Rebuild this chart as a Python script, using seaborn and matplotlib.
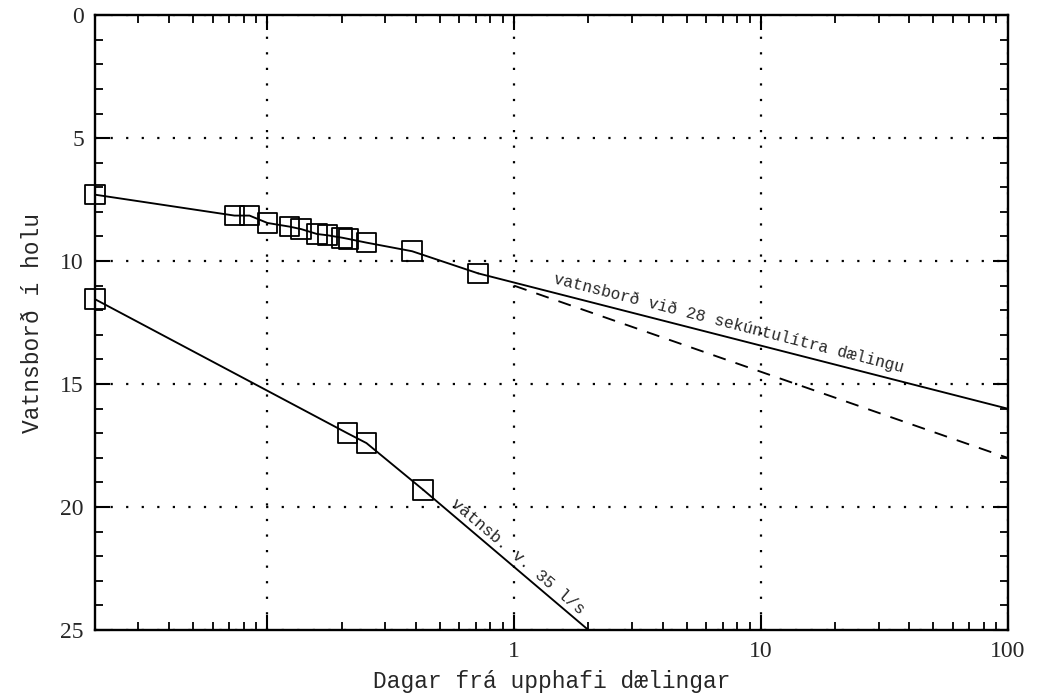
import numpy as np
import matplotlib
matplotlib.use('Agg')
import matplotlib.pyplot as plt
import pandas as pd
import seaborn as sns
from matplotlib.ticker import FixedLocator, FixedFormatter, MultipleLocator, NullFormatter

# data (days, water level in m below top)
upper_days = [0.02, 0.0735, 0.0846, 0.1, 0.123, 0.137, 0.159, 0.175, 0.201, 0.213, 0.252, 0.386, 0.715]
upper_level = [7.3, 8.15, 8.15, 8.45, 8.6, 8.7, 8.9, 8.95, 9.05, 9.1, 9.25, 9.6, 10.5]
upper_trend_days = [0.715, 100]
upper_trend_level = [10.5, 16.0]
dashed_days = [1.0, 100]
dashed_level = [11.0, 18.0]

lower_days = [0.02, 0.211, 0.252, 0.428]
lower_level = [11.55, 17.0, 17.4, 19.3]
lower_trend_days = [0.428, 2.0]
lower_trend_level = [19.3, 25.0]

x_major = [0.1, 1, 10, 100]
x_major_labels = ['', '1', '10', '100']

sns.set_style('ticks')
plt.rcParams['font.family'] = ['Liberation Mono', 'DejaVu Sans Mono']

fig = plt.figure(figsize=(10.37, 6.94), dpi=100)
ax = fig.add_axes([0.0916, 0.0922, 0.880, 0.886])

up = pd.DataFrame({'days': upper_days, 'level': upper_level})
low = pd.DataFrame({'days': lower_days, 'level': lower_level})

lw = 1.35
sns.lineplot(data=up, x='days', y='level', ax=ax, color='black', lw=lw,
             estimator=None, sort=False, clip_on=False)
sns.lineplot(x=upper_trend_days, y=upper_trend_level, ax=ax, color='black', lw=lw,
             estimator=None, sort=False)
sns.lineplot(x=dashed_days, y=dashed_level, ax=ax, color='black', lw=lw,
             estimator=None, sort=False, dashes=False, linestyle=(0, (7, 5.5)))
sns.lineplot(data=low, x='days', y='level', ax=ax, color='black', lw=lw,
             estimator=None, sort=False, clip_on=False)
sns.lineplot(x=lower_trend_days, y=lower_trend_level, ax=ax, color='black', lw=lw,
             estimator=None, sort=False)

sns.scatterplot(data=up, x='days', y='level', ax=ax, marker='s', s=200,
                facecolor='none', edgecolor='black', linewidth=1.3, clip_on=False, zorder=5)
sns.scatterplot(data=low, x='days', y='level', ax=ax, marker='s', s=200,
                facecolor='none', edgecolor='black', linewidth=1.3, clip_on=False, zorder=5)

ax.set_xscale('log')
ax.set_xlim(0.02, 100)
ax.set_ylim(25, 0)

ax.xaxis.set_major_locator(FixedLocator(x_major))
ax.xaxis.set_major_formatter(FixedFormatter(x_major_labels))
minor = [m * 10.0 ** e for e in range(-2, 2) for m in range(2, 10)]
ax.xaxis.set_minor_locator(FixedLocator(minor))
ax.xaxis.set_minor_formatter(NullFormatter())
ax.yaxis.set_major_locator(MultipleLocator(5))
ax.yaxis.set_minor_locator(MultipleLocator(1))

ax.tick_params(which='both', direction='in', top=True, right=True, color='black')
ax.tick_params(which='major', length=11, width=1.5, pad=8)
ax.tick_params(which='minor', length=6, width=1.3)
for lab in ax.get_xticklabels() + ax.get_yticklabels():
    lab.set_family('Liberation Serif')
    lab.set_fontsize(17)

ax.grid(True, which='major', color='black', lw=1.6, linestyle=(0, (1, 6)))
for sp in ax.spines.values():
    sp.set_linewidth(1.7)
    sp.set_color('black')

ax.set_xlabel('Dagar frá upphafi dælingar', fontsize=16.5, labelpad=6)
ax.set_ylabel('Vatnsborð í holu', fontsize=16.5, labelpad=12)


def angle_of(xs, ys):
    p = ax.transData.transform(np.column_stack([xs, ys]))
    return np.degrees(np.arctan2(p[1, 1] - p[0, 1], p[1, 0] - p[0, 0]))


ax.text(1.43, 10.9, 'vatnsborð við 28 sekúntulítra dælingu', fontsize=11.7,
        rotation=angle_of(upper_trend_days, upper_trend_level),
        rotation_mode='anchor', ha='left', va='baseline')
ax.text(0.55, 19.9, 'vatnsb. v. 35 l/s', fontsize=12,
        rotation=angle_of(lower_trend_days, lower_trend_level),
        rotation_mode='anchor', ha='left', va='baseline')

fig.savefig('out.png', dpi=100)
